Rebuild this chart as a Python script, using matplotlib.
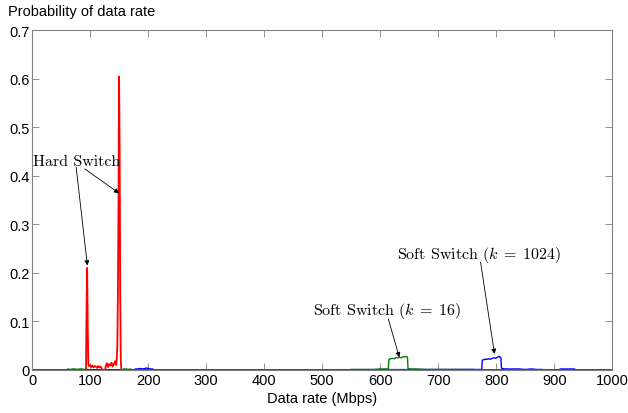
import matplotlib
matplotlib.use("Agg")
import matplotlib.pyplot as plt

plt.rcParams['font.family'] = ['Liberation Sans', 'DejaVu Sans']
plt.rcParams['mathtext.fontset'] = 'cm'

# hard switch (red)
red_x = [0, 93, 94, 95, 96, 97, 98,
         100, 102, 104, 106, 108, 110, 112, 114, 116, 118, 120,
         121, 126,
         127, 129, 131, 133, 135, 137, 139, 141, 143, 145,
         146, 147, 148, 149, 150, 151, 152, 153, 154,
         1000]
red_y = [0, 0, 0.13, 0.21, 0.09, 0.012, 0.008,
         0.01, 0.006, 0.009, 0.005, 0.008, 0.007, 0.004, 0.008, 0.005, 0.007, 0.004,
         0, 0,
         0.008, 0.014, 0.006, 0.012, 0.009, 0.015, 0.007, 0.012, 0.018, 0.01,
         0.022, 0.05, 0.16, 0.33, 0.604, 0.45, 0.15, 0.02, 0,
         0]

# soft switch k=16 (green)
green_x = [0, 60, 62, 66, 70, 74, 78, 82, 86, 90, 94, 96,
           155, 158, 162, 166, 170, 172,
           545, 550, 560, 570, 580, 590, 600, 610, 614,
           615, 618, 621, 624, 627, 630, 633, 636, 639, 642, 645, 647,
           648, 652, 660, 680, 700, 720, 740, 760, 762,
           1000]
green_y = [0, 0, 0.002, 0.001, 0.002, 0.002, 0.001, 0.002, 0.002, 0.001, 0.002, 0,
           0, 0.002, 0.002, 0.001, 0.002, 0,
           0, 0.001, 0.001, 0.001, 0.001, 0.001, 0.002, 0.002, 0.002,
           0.022, 0.023, 0.024, 0.023, 0.025, 0.025, 0.026, 0.025, 0.027, 0.027, 0.028, 0.026,
           0.003, 0.002, 0.002, 0.001, 0.001, 0.001, 0.001, 0.001, 0,
           0]

# soft switch k=1024 (blue)
blue_x = [0, 176, 178, 182, 186, 190, 194, 198, 200, 204, 208, 210,
          775, 776, 778, 781, 784, 787, 790, 793, 796, 799, 802, 805, 808, 809,
          810, 815, 820, 830, 840, 850, 860, 870, 880, 881,
          908, 910, 915, 920, 925, 930, 935, 936,
          1000]
blue_y = [0, 0, 0.002, 0.002, 0.003, 0.002, 0.003, 0.004, 0.003, 0.002, 0.002, 0,
          0.001, 0.02, 0.021, 0.022, 0.022, 0.023, 0.022, 0.024, 0.025, 0.024, 0.026, 0.028, 0.025, 0.004,
          0.003, 0.002, 0.002, 0.002, 0.002, 0.001, 0.002, 0.001, 0.001, 0,
          0, 0.002, 0.002, 0.002, 0.002, 0.002, 0.002, 0,
          0]

x_ticks = [0, 100, 200, 300, 400, 500, 600, 700, 800, 900, 1000]
y_ticks = [0, 0.1, 0.2, 0.3, 0.4, 0.5, 0.6, 0.7]
y_labels = ['0', '0.1', '0.2', '0.3', '0.4', '0.5', '0.6', '0.7']

fig = plt.figure(figsize=(6.28, 4.14), dpi=100)
ax = fig.add_axes([0.051, 0.104, 0.924, 0.821])

ax.plot(green_x, green_y, color=(0, 0.5, 0), lw=1.0)
ax.plot(blue_x, blue_y, color=(0, 0, 1), lw=1.0)
ax.plot(red_x, red_y, color=(1, 0, 0), lw=1.3)

ax.set_xlim(0, 1000)
ax.set_ylim(0, 0.7)
ax.set_xticks(x_ticks)
ax.set_yticks(y_ticks)
ax.set_yticklabels(y_labels)
ax.tick_params(direction='in', top=True, right=True, length=5, width=0.6,
               color='#808080', labelsize=10.5, pad=2)
for s in ax.spines.values():
    s.set_color('#808080')
    s.set_linewidth(0.8)

ax.set_xlabel('Data rate (Mbps)', fontsize=10.5, labelpad=3)
fig.text(0.013, 0.972, 'Probability of data rate', fontsize=10.5, va='center', ha='left')

# annotations, Computer Modern like the original
arrow = dict(arrowstyle='-|>', color='k', lw=0.6, mutation_scale=7, shrinkA=0, shrinkB=0)
tfont = dict(family='cmr10', fontsize=11.5)
ax.annotate('', xy=(95.4, 0.215), xytext=(76, 0.418), arrowprops=arrow)
ax.annotate('', xy=(150, 0.364), xytext=(91, 0.414), arrowprops=arrow)
ax.text(2, 0.43, 'Hard Switch', ha='left', va='center', **tfont)

ax.annotate('', xy=(633, 0.026), xytext=(614, 0.105), arrowprops=arrow)
ax.text(612, 0.1235, r'Soft Switch ($k\;=\;16$)', ha='center', va='center', **tfont)

ax.annotate('', xy=(797, 0.033), xytext=(773, 0.222), arrowprops=arrow)
ax.text(771, 0.239, r'Soft Switch ($k\;=\;1024$)', ha='center', va='center', **tfont)

fig.savefig('out.png', dpi=100)
